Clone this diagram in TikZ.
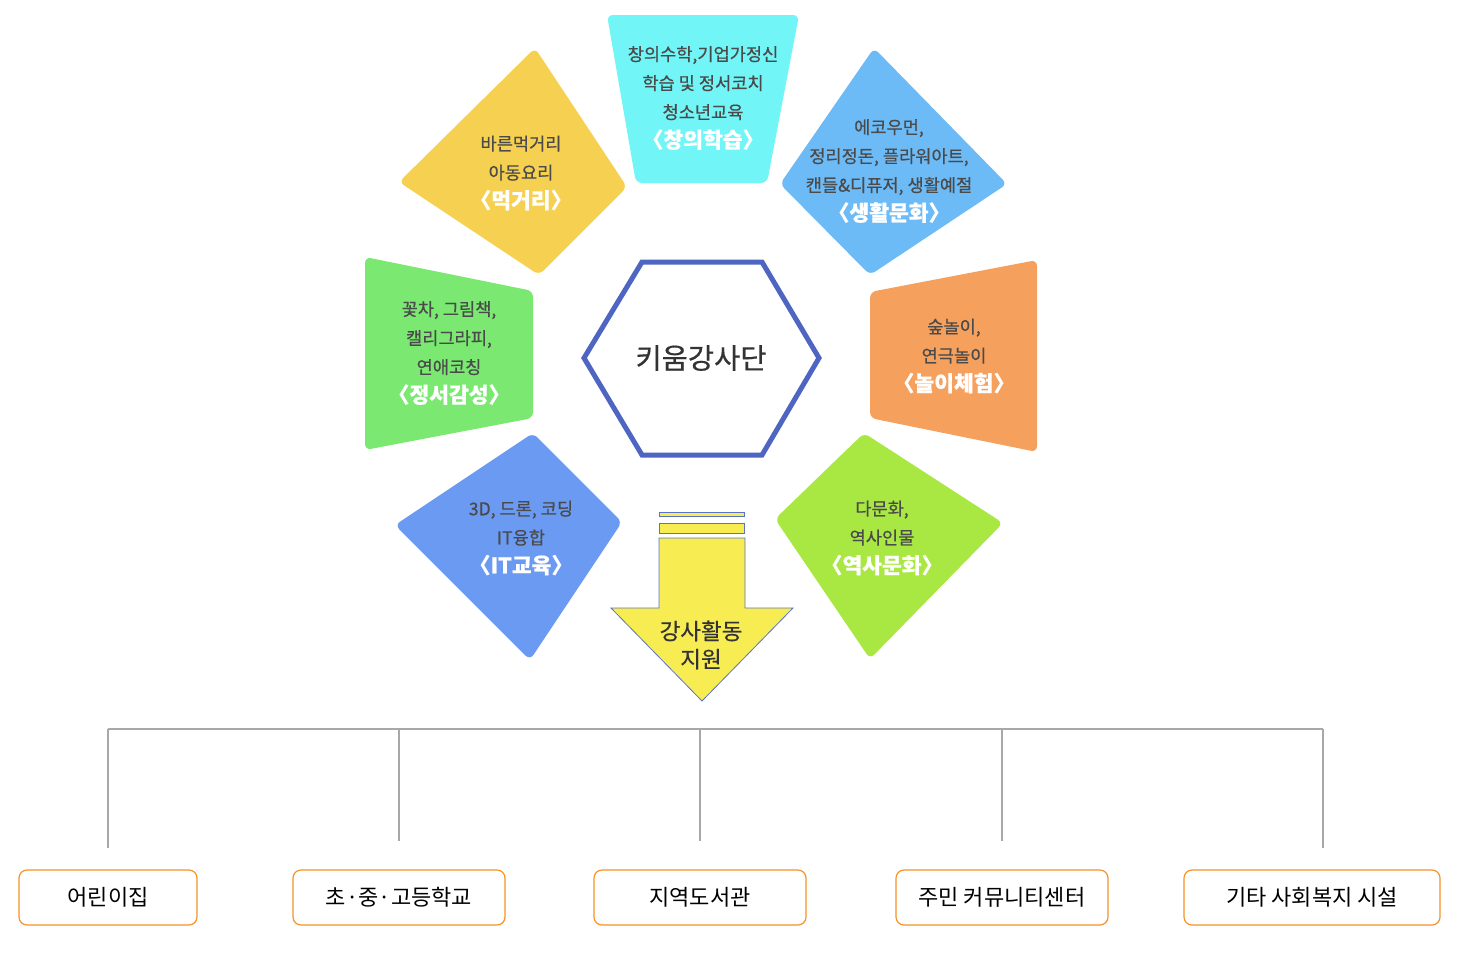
\documentclass[tikz,border=0pt]{standalone}
\usepackage{fontspec}
\setmainfont{Noto Sans CJK KR}
\newfontfamily\descfont[FakeBold=0.5]{Noto Sans CJK KR}
\newfontfamily\plainfont{Noto Sans CJK KR}
\definecolor{cyanF}{HTML}{72F5F7}
\definecolor{yellowD}{HTML}{F6D151}
\definecolor{lblue}{HTML}{6DBBF6}
\definecolor{greenF}{HTML}{7BE872}
\definecolor{orangeF}{HTML}{F6A05E}
\definecolor{itblue}{HTML}{6B9AF2}
\definecolor{limeF}{HTML}{A9E842}
\definecolor{hexblue}{HTML}{4E66C2}
\definecolor{arrowY}{HTML}{F7ED52}
\definecolor{arrowEdge}{HTML}{5B73C7}
\definecolor{boxedge}{HTML}{F5922A}
\definecolor{linegray}{HTML}{A8A8A8}
\definecolor{descgray}{HTML}{4A4A4A}
\definecolor{darktext}{HTML}{333333}
\newcommand{\ttl}[1]{{\bfseries\fontsize{21.5}{29}\selectfont\color{white}〈#1〉}}
\begin{document}
\begin{tikzpicture}[x=1pt,y=-1pt,
  petal/.style={rounded corners=6pt},
  desc/.style={font=\descfont\fontsize{17.6}{29}\selectfont, text=descgray, align=center, inner sep=0pt},
  centre/.style={font=\descfont\fontsize{28.5}{30}\selectfont, text=darktext, inner sep=0pt},
  arrowtext/.style={font=\descfont\fontsize{22.5}{28}\selectfont, text=darktext, align=center, inner sep=0pt},
  placebox/.style={draw=boxedge, line width=1.2pt, rounded corners=8pt, minimum height=55pt, font=\plainfont\fontsize{22}{24}\selectfont, text=black, inner sep=0pt},
  tree/.style={draw=linegray, line width=1.1pt},
  bar/.style={fill=arrowY, draw=arrowEdge, line width=0.8pt}
]
\useasboundingbox (0,0) rectangle (1458,954);

% petals
\path[petal, fill=cyanF] (607,15) -- (799,15) -- (767,183) -- (636,183) -- cycle;
\path[petal, fill=yellowD] (535,48) -- (627,187) -- (539,275) -- (399,182) -- cycle;
\path[petal, fill=lblue] (874,48) -- (1007,184) -- (870,275) -- (780,184) -- cycle;
\path[petal, fill=greenF] (365,257) -- (533,291) -- (533,418) -- (365,450) -- cycle;
\path[petal, fill=orangeF] (870,292) -- (1037,260) -- (1037,452) -- (870,418) -- cycle;
\path[petal, fill=itblue] (533,433) -- (622,522) -- (530,660) -- (395,525) -- cycle;
\path[petal, fill=limeF] (864,433) -- (1003,523) -- (870,659) -- (775,519) -- cycle;

\node[desc] (t1) at (703,98) {창의수학,기업가정신\\학습 및 정서코치\\청소년교육\\\ttl{창의학습}};
\node[desc] (t2) at (521,173) {바른먹거리\\아동요리\\\ttl{먹거리}};
\node[desc] (t3) at (889,171) {에코우먼,\\정리정돈, 플라워아트,\\캔들\&디퓨저, 생활예절\\\ttl{생활문화}};
\node[desc] (t4) at (449,353) {꽃차, 그림책,\\캘리그라피,\\연애코칭\\\ttl{정서감성}};
\node[desc] (t5) at (954,356) {숲놀이,\\연극놀이\\\ttl{놀이체험}};
\node[desc] (t6) at (521,538) {3D, 드론, 코딩\\IT융합\\\ttl{IT교육}};
\node[desc] (t7) at (882,538) {다문화,\\역사인물\\\ttl{역사문화}};

% hexagon
\draw[hexblue, line width=5pt, line join=miter] (642,262) -- (762,262) -- (819,358) -- (762,455) -- (642,455) -- (584,358) -- cycle;
\node[centre] (hex) at (701,358) {키움강사단};

% arrow
\path[bar] (659,512) rectangle (744,516);
\path[bar] (659,523) rectangle (744,533);
\path[bar] (659,538) -- (745,538) -- (745,608) -- (793,608) -- (702,701) -- (611,608) -- (659,608) -- cycle;
\node[arrowtext] (arr) at (701,645) {강사활동\\지원};

% tree
\coordinate (h1) at (108,729);
\coordinate (h2) at (399,729);
\coordinate (h3) at (700,729);
\coordinate (h4) at (1002,729);
\coordinate (h5) at (1323,729);
\coordinate (e1) at (108,848);
\coordinate (e2) at (399,841);
\coordinate (e3) at (700,841);
\coordinate (e4) at (1002,841);
\coordinate (e5) at (1323,848);
\draw[tree] (h1) -- (h5);
\draw[tree] (h1) -- (e1);
\draw[tree] (h2) -- (e2);
\draw[tree] (h3) -- (e3);
\draw[tree] (h4) -- (e4);
\draw[tree] (h5) -- (e5);

\node[placebox, minimum width=178pt] (b1) at (108,897.5) {어린이집};
\node[placebox, minimum width=212pt] (b2) at (399,897.5) {초·중·고등학교};
\node[placebox, minimum width=212pt] (b3) at (700,897.5) {지역도서관};
\node[placebox, minimum width=212pt] (b4) at (1002,897.5) {주민 커뮤니티센터};
\node[placebox, minimum width=256pt] (b5) at (1312,897.5) {기타 사회복지 시설};
\end{tikzpicture}
\end{document}
